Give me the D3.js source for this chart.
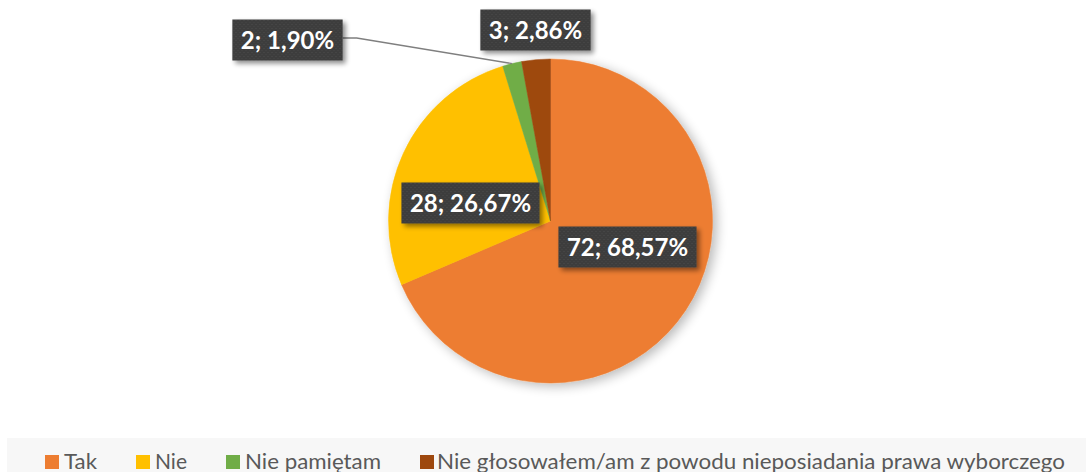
<!DOCTYPE html>
<html>
<head>
<meta charset="utf-8">
<script src="https://cdn.jsdelivr.net/npm/d3@7"></script>
<style>
  html, body { margin: 0; padding: 0; background: #ffffff; }
  svg { display: block; }
</style>
</head>
<body>
<svg id="chart" width="1086" height="472"></svg>
<script>
// ---- data ----
const categories = ["Tak", "Nie", "Nie pamiętam", "Nie głosowałem/am z powodu nieposiadania prawa wyborczego"];
const counts = [72, 28, 2, 3];
const percents = ["68,57%", "26,67%", "1,90%", "2,86%"];
const colors = ["#ED7D31", "#FFC000", "#70AD47", "#9E480E"];

// ---- layout ----
const W = 1086, H = 472;
const cx = 550.5, cy = 221, R = 162;
// label box centre offsets from pie centre
const labelOffsets = [[77, 26], [-80, -18], [-263, -181], [-15, -191]];
const leaderIndex = 2;
// legend positions (swatch x) and text widths as in reference
const legendX = [45, 136, 226, 420];
const legendTextW = [33, 32, 136, 628];

const svg = d3.select("#chart");
const defs = svg.append("defs");

const pf = defs.append("filter").attr("id", "pieShadow")
  .attr("x", "-20%").attr("y", "-20%").attr("width", "140%").attr("height", "140%");
pf.append("feGaussianBlur").attr("in", "SourceAlpha").attr("stdDeviation", 6).attr("result", "b");
pf.append("feOffset").attr("in", "b").attr("dx", 4).attr("dy", 3).attr("result", "o");
pf.append("feComponentTransfer").attr("in", "o").attr("result", "s")
  .append("feFuncA").attr("type", "linear").attr("slope", 0.28);
const pm = pf.append("feMerge");
pm.append("feMergeNode").attr("in", "s");
pm.append("feMergeNode").attr("in", "SourceGraphic");

const bf = defs.append("filter").attr("id", "boxShadow")
  .attr("x", "-20%").attr("y", "-30%").attr("width", "140%").attr("height", "160%");
bf.append("feGaussianBlur").attr("in", "SourceAlpha").attr("stdDeviation", 2.5).attr("result", "b");
bf.append("feOffset").attr("in", "b").attr("dx", 3).attr("dy", 3).attr("result", "o");
bf.append("feComponentTransfer").attr("in", "o").attr("result", "s")
  .append("feFuncA").attr("type", "linear").attr("slope", 0.45);
const bm = bf.append("feMerge");
bm.append("feMergeNode").attr("in", "s");
bm.append("feMergeNode").attr("in", "SourceGraphic");

// subtle texture for label boxes
const pat = defs.append("pattern").attr("id", "tex").attr("width", 4).attr("height", 4)
  .attr("patternUnits", "userSpaceOnUse");
pat.append("rect").attr("width", 4).attr("height", 4).attr("fill", "#3e3e3e");
pat.append("rect").attr("x", 0).attr("y", 0).attr("width", 1).attr("height", 1).attr("fill", "#4a4a4a");
pat.append("rect").attr("x", 2).attr("y", 2).attr("width", 1).attr("height", 1).attr("fill", "#464646");

// legend background
svg.append("rect").attr("x", 7).attr("y", 438).attr("width", W - 7).attr("height", H - 438)
  .attr("fill", "#f7f7f7");

// ---- pie ----
const data = categories.map((c, i) => ({ cat: c, value: counts[i], pct: percents[i], color: colors[i], i }));
const pie = d3.pie().value(d => d.value).sort(null);
const arcs = pie(data);
const arc = d3.arc().innerRadius(0).outerRadius(R);

const g = svg.append("g").attr("transform", `translate(${cx},${cy})`);
g.append("g").attr("filter", "url(#pieShadow)")
  .selectAll("path").data(arcs).join("path")
  .attr("d", arc)
  .attr("fill", d => d.data.color)
  .attr("stroke", d => d.data.color)
  .attr("stroke-width", 0.5);

// ---- leader line ----
{
  const a = arcs[leaderIndex];
  const mid = (a.startAngle + a.endAngle) / 2;
  const px = Math.sin(mid) * R, py = -Math.cos(mid) * R;
  const off = labelOffsets[leaderIndex];
  g.append("path").attr("class", "leader")
    .attr("fill", "none").attr("stroke", "#7f7f7f").attr("stroke-width", 1.3)
    .datum({ px, py, off });
}

// ---- labels ----
const labels = g.selectAll("g.lbl").data(arcs).join("g").attr("class", "lbl")
  .attr("transform", d => `translate(${labelOffsets[d.index][0]},${labelOffsets[d.index][1]})`);

const rects = labels.append("rect").attr("fill", "url(#tex)").attr("filter", "url(#boxShadow)");
const texts = labels.append("text")
  .attr("text-anchor", "middle")
  .attr("y", 8.5)
  .attr("fill", "#ffffff")
  .style("font-family", "Lato, 'Open Sans', sans-serif")
  .style("font-weight", "700")
  .style("font-size", "24px")
  .text(d => `${d.data.value}; ${d.data.pct}`);

const boxW = [];
texts.each(function (d) {
  const w = this.getComputedTextLength();
  boxW[d.index] = w + 17;
});
rects.attr("x", d => -boxW[d.index] / 2).attr("y", -20.5)
  .attr("width", d => boxW[d.index]).attr("height", 41);

g.select("path.leader").attr("d", d => {
  const bx = d.off[0] + boxW[leaderIndex] / 2;
  const by = d.off[1] - 2;
  return `M${bx},${by}L${bx + 14},${by}L${d.px},${d.py}`;
});
labels.raise();

// ---- legend ----
const leg = svg.append("g");
const items = leg.selectAll("g").data(data).join("g")
  .attr("transform", d => `translate(${legendX[d.i]},455)`);
items.append("rect").attr("width", 14).attr("height", 14).attr("fill", d => d.color);
items.append("text")
  .attr("x", d => (d.i === 3 ? 17 : 19))
  .attr("y", 14)
  .attr("fill", "#595959")
  .style("font-family", "Lato, 'Open Sans', sans-serif")
  .style("font-size", "21px")
  .attr("textLength", d => legendTextW[d.i])
  .attr("lengthAdjust", "spacingAndGlyphs")
  .text(d => d.cat);
</script>
</body>
</html>
